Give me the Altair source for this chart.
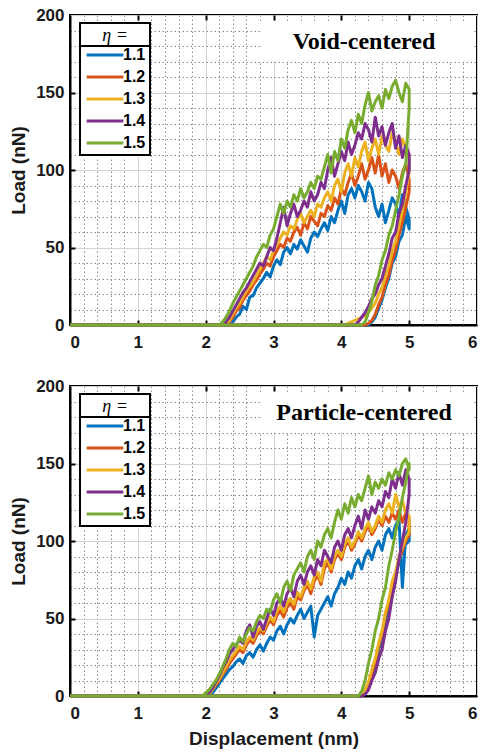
import altair as alt
import pandas as pd

# ---------------- series names / colours ----------------
ETA = ["1.1", "1.2", "1.3", "1.4", "1.5"]
COLORS = ["#0072BD", "#D95319", "#EDB120", "#7E2F8E", "#77AC30"]

# ---------------- tick values ----------------
X_MAJOR = [0, 1, 2, 3, 4, 5, 6]
Y_MAJOR = [0, 50, 100, 150, 200]
X_INNER = [1, 2, 3, 4, 5]
Y_INNER = [50, 100, 150]
X_MINOR = [0.2, 0.4, 0.6, 0.8, 1.2, 1.4, 1.6, 1.8, 2.2, 2.4, 2.6, 2.8,
           3.2, 3.4, 3.6, 3.8, 4.2, 4.4, 4.6, 4.8, 5.2, 5.4, 5.6, 5.8]
Y_MINOR = [10, 20, 30, 40, 60, 70, 80, 90, 110, 120, 130, 140, 160, 170, 180, 190]

# ---------------- top panel: Void-centered ----------------
top_load_x = [2.20, 2.25, 2.30, 2.35, 2.40, 2.45, 2.50, 2.55, 2.60, 2.65,
              2.70, 2.75, 2.80, 2.85, 2.90, 2.95, 3.00, 3.05, 3.10, 3.15,
              3.20, 3.25, 3.30, 3.35, 3.40, 3.45, 3.50, 3.55, 3.60, 3.65,
              3.70, 3.75, 3.80, 3.85, 3.90, 3.95, 4.00, 4.05, 4.10, 4.15,
              4.20, 4.25, 4.30, 4.35, 4.40, 4.45, 4.50, 4.55, 4.60, 4.65,
              4.70, 4.75, 4.80, 4.85, 4.90, 4.95, 5.00]
top_load_11 = [0, 0, 0, 0, 2, 5, 7, 12, 10, 18,
               19, 24, 27, 30, 34, 31, 38, 42, 39, 47,
               50, 46, 52, 49, 55, 51, 47, 56, 60, 57,
               62, 66, 61, 70, 66, 74, 80, 72, 84, 88,
               82, 90, 86, 80, 92, 88, 76, 70, 78, 66,
               74, 82, 78, 70, 84, 76, 68]
top_load_12 = [0, 0, 0, 2, 5, 9, 11, 16, 19, 22,
               26, 29, 33, 36, 40, 38, 44, 48, 52, 50,
               56, 54, 60, 63, 58, 66, 62, 70, 67, 64,
               72, 70, 77, 74, 82, 78, 88, 84, 92, 98,
               90, 96, 104, 94, 100, 108, 98, 110, 96, 104,
               92, 100, 96, 88, 98, 104, 94]
top_load_13 = [0, 0, 0, 3, 7, 11, 14, 18, 22, 25,
               28, 32, 36, 40, 44, 42, 48, 52, 56, 60,
               58, 64, 62, 68, 72, 66, 70, 74, 70, 78,
               76, 82, 86, 80, 90, 94, 86, 98, 104, 96,
               108, 102, 112, 118, 106, 114, 120, 110, 122, 116,
               112, 124, 118, 110, 120, 114, 108]
top_load_14 = [0, 0, 2, 5, 9, 13, 17, 21, 24, 28,
               32, 36, 40, 38, 44, 50, 48, 56, 66, 76,
               64, 72, 78, 70, 74, 80, 76, 86, 80, 84,
               92, 88, 100, 108, 96, 104, 112, 106, 118, 110,
               116, 124, 120, 130, 126, 118, 134, 122, 128, 116,
               124, 130, 114, 122, 108, 116, 110]
top_load_15 = [0, 2, 5, 9, 14, 18, 22, 26, 30, 34,
               38, 44, 48, 52, 50, 58, 62, 70, 78, 72,
               80, 76, 84, 80, 88, 82, 86, 92, 88, 96,
               94, 102, 110, 98, 112, 106, 120, 114, 126, 132,
               124, 136, 130, 142, 150, 138, 144, 148, 140, 152,
               146, 154, 158, 150, 144, 156, 152]

top_unload_x = [5.00, 4.95, 4.90, 4.85, 4.80, 4.75, 4.70, 4.65, 4.60, 4.55,
                4.50, 4.45, 4.40, 4.35, 4.30, 4.25, 4.20, 4.15, 4.10, 4.05, 4.00]
top_unload_11 = [62, 70, 58, 54, 44, 40, 30, 24, 16, 11, 5, 2, 0, 0, 0, 0, 0, 0, 0, 0, 0]
top_unload_12 = [86, 76, 66, 58, 48, 42, 32, 26, 18, 13, 7, 3, 1, 0, 0, 0, 0, 0, 0, 0, 0]
top_unload_13 = [98, 86, 74, 64, 54, 48, 38, 32, 24, 20, 14, 11, 8, 6, 5, 4, 3, 2, 1, 0, 0]
top_unload_14 = [100, 90, 78, 72, 60, 56, 46, 38, 30, 26, 20, 17, 12, 8, 5, 2, 0, 0, 0, 0, 0]
top_unload_15 = [140, 104, 96, 84, 74, 64, 58, 48, 42, 32, 26, 15, 8, 2, 0, 0, 0, 0, 0, 0, 0]

# ---------------- bottom panel: Particle-centered ----------------
bot_load_x = [1.90, 1.95, 2.00, 2.05, 2.10, 2.15, 2.20, 2.25, 2.30, 2.35,
              2.40, 2.45, 2.50, 2.55, 2.60, 2.65, 2.70, 2.75, 2.80, 2.85,
              2.90, 2.95, 3.00, 3.05, 3.10, 3.15, 3.20, 3.25, 3.30, 3.35,
              3.40, 3.45, 3.50, 3.55, 3.60, 3.65, 3.70, 3.75, 3.80, 3.85,
              3.90, 3.95, 4.00, 4.05, 4.10, 4.15, 4.20, 4.25, 4.30, 4.35,
              4.40, 4.45, 4.50, 4.55, 4.60, 4.65, 4.70, 4.75, 4.80, 4.85,
              4.90, 4.95, 5.00]
bot_load_11 = [0, 0, 0, 0, 2, 5, 8, 11, 14, 17,
               19, 22, 24, 21, 26, 28, 25, 30, 33, 29,
               34, 38, 36, 42, 45, 40, 46, 50, 47, 52,
               56, 50, 54, 58, 38, 52, 56, 60, 64, 58,
               66, 70, 76, 72, 80, 76, 84, 88, 82, 90,
               94, 88, 96, 100, 94, 104, 108, 102, 110, 114,
               70, 104, 108]
bot_load_12 = [0, 0, 0, 2, 4, 7, 10, 14, 17, 21,
               24, 27, 30, 28, 33, 36, 34, 39, 42, 40,
               45, 49, 46, 52, 55, 51, 57, 60, 56, 64,
               62, 68, 72, 66, 74, 78, 72, 82, 86, 80,
               88, 92, 88, 96, 100, 94, 98, 104, 100, 106,
               110, 104, 108, 114, 110, 116, 112, 118, 114, 120,
               112, 118, 114]
bot_load_13 = [0, 0, 0, 1, 4, 8, 11, 15, 19, 23,
               26, 29, 32, 30, 35, 38, 36, 41, 44, 42,
               47, 51, 48, 55, 58, 54, 60, 63, 59, 67,
               64, 70, 74, 69, 77, 80, 74, 86, 88, 82,
               90, 94, 90, 98, 102, 96, 100, 106, 102, 108,
               112, 106, 110, 116, 112, 120, 124, 118, 130, 122,
               126, 118, 116]
bot_load_14 = [0, 0, 0, 2, 5, 9, 13, 18, 22, 27,
               30, 33, 36, 34, 42, 46, 38, 45, 48, 43,
               50, 56, 52, 60, 63, 58, 66, 70, 64, 74,
               78, 72, 80, 84, 78, 88, 84, 94, 90, 86,
               96, 100, 94, 104, 108, 102, 110, 116, 108, 120,
               114, 122, 118, 126, 122, 132, 128, 140, 134, 144,
               136, 146, 140]
bot_load_15 = [0, 0, 2, 4, 7, 10, 14, 19, 24, 30,
               34, 32, 38, 35, 40, 44, 42, 48, 52, 50,
               56, 54, 62, 66, 60, 70, 74, 68, 78, 82,
               86, 80, 90, 94, 88, 100, 96, 104, 108, 102,
               112, 120, 114, 124, 118, 128, 122, 130, 126, 134,
               142, 130, 138, 134, 140, 136, 144, 140, 146, 142,
               150, 153, 146]

bot_unload_x = [5.00, 4.95, 4.90, 4.85, 4.80, 4.75, 4.70, 4.65, 4.60, 4.55,
                4.50, 4.45, 4.40, 4.35, 4.30, 4.25, 4.20, 4.15, 4.10]
bot_unload_11 = [100, 98, 94, 86, 80, 68, 58, 48, 36, 30, 20, 13, 6, 2, 0, 0, 0, 0, 0]
bot_unload_12 = [104, 100, 94, 88, 78, 72, 60, 52, 40, 32, 22, 15, 7, 2, 0, 0, 0, 0, 0]
bot_unload_13 = [106, 102, 96, 90, 80, 74, 62, 54, 42, 34, 24, 17, 9, 4, 1, 0, 0, 0, 0]
bot_unload_14 = [130, 112, 100, 88, 74, 64, 50, 42, 30, 24, 15, 10, 4, 1, 0, 0, 0, 0, 0]
bot_unload_15 = [150, 138, 128, 115, 106, 94, 84, 70, 62, 50, 42, 30, 21, 10, 3, 0, 0, 0, 0]


def build(load_x, loads, unload_x, unloads):
    rows = []
    for eta, lv, uv in zip(ETA, loads, unloads):
        pts = [(0.0, 0.0)] + list(zip(load_x, lv)) + list(zip(unload_x, uv)) + [(0.0, 0.0)]
        for i, (x, y) in enumerate(pts):
            rows.append({"eta": eta, "i": i, "disp": x, "load": y})
    return pd.DataFrame(rows)


top_df = build(top_load_x, [top_load_11, top_load_12, top_load_13, top_load_14, top_load_15],
               top_unload_x, [top_unload_11, top_unload_12, top_unload_13, top_unload_14, top_unload_15])
bot_df = build(bot_load_x, [bot_load_11, bot_load_12, bot_load_13, bot_load_14, bot_load_15],
               bot_unload_x, [bot_unload_11, bot_unload_12, bot_unload_13, bot_unload_14, bot_unload_15])

W, H = 407, 310
SANS = "Liberation Sans"
SERIF = "Liberation Serif"
TXT = "#1a1a1a"


def panel(df, tag, show_xtitle):
    xs = alt.Scale(domain=[0, 6], nice=False, zero=False)
    ys = alt.Scale(domain=[0, 200], nice=False)
    base = alt.Chart(df)

    hidden = dict(labels=False, ticks=False, domain=False)

    minor = base.mark_line(opacity=0).encode(
        x=alt.X("disp:Q", scale=xs, title=None,
                axis=alt.Axis(orient="bottom", values=X_MINOR, grid=True, gridDash=[1.5, 2.5],
                              gridColor="#8a8a8a", gridWidth=1, **hidden)),
        y=alt.Y("load:Q", scale=ys, title=None,
                axis=alt.Axis(orient="left", values=Y_MINOR, grid=True, gridDash=[1.5, 2.5],
                              gridColor="#8a8a8a", gridWidth=1, **hidden)),
        detail="eta:N",
    )

    tick_style = dict(ticks=True, tickSize=5, tickWidth=2, tickColor="black",
                      labels=False, domain=False, grid=False)
    inner_a = base.mark_line(opacity=0).encode(
        x=alt.X("disp:Q", scale=xs, title=None,
                axis=alt.Axis(orient="top", offset=-H, values=X_INNER, **tick_style)),
        y=alt.Y("load:Q", scale=ys, title=None,
                axis=alt.Axis(orient="right", offset=-W, values=Y_INNER, **tick_style)),
        detail="eta:N",
    )
    inner_b = base.mark_line(opacity=0).encode(
        x=alt.X("disp:Q", scale=xs, title=None,
                axis=alt.Axis(orient="bottom", offset=-H, values=X_INNER, **tick_style)),
        y=alt.Y("load:Q", scale=ys, title=None,
                axis=alt.Axis(orient="left", offset=-W, values=Y_INNER, **tick_style)),
        detail="eta:N",
    )

    xaxis = alt.Axis(orient="bottom", values=X_MAJOR, format="d", grid=True, gridColor="#d2d2d2",
                     gridWidth=1, ticks=False, domain=True, domainColor="black", domainWidth=2,
                     labelFont=SANS, labelFontSize=17, labelFontWeight="bold", labelColor=TXT,
                     labelPadding=9, titleFont=SANS, titleFontSize=19, titleFontWeight="bold",
                     titleColor=TXT, titlePadding=8)
    yaxis = alt.Axis(orient="left", values=Y_MAJOR, format="d", grid=True, gridColor="#d2d2d2",
                     gridWidth=1, ticks=False, domain=True, domainColor="black", domainWidth=2,
                     labelFont=SANS, labelFontSize=17, labelFontWeight="bold", labelColor=TXT,
                     labelPadding=6, titleFont=SANS, titleFontSize=19, titleFontWeight="bold",
                     titleColor=TXT, titlePadding=7)
    if show_xtitle:
        xenc = alt.X("disp:Q", scale=xs, title="Displacement (nm)", axis=xaxis)
    else:
        xenc = alt.X("disp:Q", scale=xs, title=None, axis=xaxis)

    lines = base.mark_line(strokeWidth=3, strokeJoin="round").encode(
        x=xenc,
        y=alt.Y("load:Q", scale=ys, title="Load (nN)", axis=yaxis),
        color=alt.Color("eta:N", scale=alt.Scale(domain=ETA, range=COLORS),
                        legend=alt.Legend(orient="none", legendX=10, legendY=8, title="η =",
                                          titleFont=SERIF, titleFontStyle="italic",
                                          titleFontWeight="normal", titleFontSize=18,
                                          titleColor="black", titleAnchor="middle",
                                          titlePadding=2, labelFont=SANS, labelFontSize=16,
                                          labelFontWeight="bold", labelColor="black",
                                          symbolType="M-2.9,0H2.9", symbolSize=160,
                                          symbolOffset=13, symbolStrokeWidth=3,
                                          labelOffset=10, rowPadding=6,
                                          padding=4, strokeColor="black")),
        order="i:Q",
    )

    deco = alt.Chart(pd.DataFrame({"k": [0]}))
    box = deco.mark_rect(fill="white").encode(
        x=alt.value(190), x2=alt.value(402), y=alt.value(6), y2=alt.value(46))
    leg_bg = deco.mark_rect(fill="white").encode(
        x=alt.value(10), x2=alt.value(80), y=alt.value(8), y2=alt.value(142))
    sep = deco.mark_rule(color="black", strokeWidth=2).encode(
        x=alt.value(10), x2=alt.value(80), y=alt.value(31))
    txt = deco.mark_text(text=tag, font=SERIF, fontWeight="bold", fontSize=24,
                         color="black", baseline="middle", align="center").encode(
        x=alt.value(294), y=alt.value(27))

    return alt.layer(minor, inner_a, inner_b, lines, box, leg_bg, sep, txt).resolve_axis(
        x="independent", y="independent").properties(width=W, height=H)


chart = alt.vconcat(
    panel(top_df, "Void-centered", False),
    panel(bot_df, "Particle-centered", True),
    spacing=61, bounds="flush",
).resolve_scale(color="independent").properties(
    padding={"left": 8, "top": 5, "right": 0, "bottom": 2},
    background="white",
).configure_view(stroke="black", strokeWidth=2).configure_legend(strokeWidth=2)

chart.save("out.html", embed_options={"renderer": "svg", "actions": False})
